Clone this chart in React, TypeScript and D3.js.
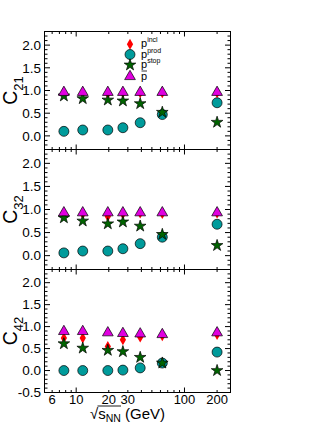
import React from 'react'
import * as d3 from 'd3'

// collision energies (GeV)
const energies = [7.7, 11.5, 19.6, 27, 39, 62.4, 200]

// C21
const c21Incl = [0.95, 0.95, 0.93, 0.95, 0.95, 0.95, 0.95]
const c21Prod = [0.10, 0.13, 0.13, 0.18, 0.29, 0.47, 0.73]
const c21Stop = [0.88, 0.82, 0.79, 0.77, 0.71, 0.52, 0.30]
const c21Pbar = [0.96, 0.96, 0.96, 0.96, 0.96, 0.96, 0.96]

// C32
const c32Incl = [0.91, 0.90, 0.85, 0.90, 0.92, 0.91, 0.92]
const c32Prod = [0.06, 0.10, 0.10, 0.15, 0.26, 0.40, 0.68]
const c32Stop = [0.82, 0.75, 0.69, 0.73, 0.64, 0.46, 0.22]
const c32Pbar = [0.93, 0.93, 0.93, 0.93, 0.93, 0.93, 0.93]

// C42
const c42Incl = [0.74, 0.74, 0.55, 0.70, 0.76, 0.79, 0.82]
const c42Prod = [0.0, 0.0, 0.0, 0.01, 0.06, 0.17, 0.42]
const c42Stop = [0.61, 0.51, 0.46, 0.43, 0.30, 0.17, 0.0]
const c42Pbar = [0.89, 0.89, 0.86, 0.845, 0.835, 0.82, 0.86]

const xTickLabels = [6, 10, 20, 30, 100, 200]
const legendNames = ['incl', 'prod', 'stop', 'pbar']

const FONT = '"Liberation Sans", Arial, Helvetica, sans-serif'
const left = 44.5
const right = 230.5

const x = d3.scaleLog().domain([5.1, 266]).range([left, right])

const panels = [
  { sub: '21', top: 31.5, bottom: 149.5, yMin: -0.3, yMax: 2.3, series: [c21Incl, c21Prod, c21Stop, c21Pbar], yLabels: [0, 0.5, 1, 1.5, 2] },
  { sub: '32', top: 149.5, bottom: 269.5, yMin: -0.3, yMax: 2.3, series: [c32Incl, c32Prod, c32Stop, c32Pbar], yLabels: [0, 0.5, 1, 1.5, 2] },
  { sub: '42', top: 269.5, bottom: 392.5, yMin: -0.5, yMax: 2.3, series: [c42Incl, c42Prod, c42Stop, c42Pbar], yLabels: [-0.5, 0, 0.5, 1, 1.5, 2] },
]

const styles: Record<string, { sym: d3.SymbolType; size: number; fill: string; stroke: string }> = {
  incl: { sym: d3.symbolDiamond, size: 34, fill: '#ff0000', stroke: 'none' },
  prod: { sym: d3.symbolCircle, size: 78, fill: '#009b9b', stroke: '#000' },
  stop: { sym: d3.symbolStar, size: 42, fill: '#006400', stroke: '#000' },
  pbar: { sym: d3.symbolTriangle, size: 50, fill: '#e000e0', stroke: '#000' },
}

const Marker = ({ kind, cx, cy }: { kind: string; cx: number; cy: number }) => {
  const s = styles[kind]
  const d = d3.symbol(s.sym, s.size)() as string
  return <path d={d} transform={`translate(${cx},${cy})`} fill={s.fill} stroke={s.stroke} strokeWidth={0.7} />
}

const Panel = ({ p }: { p: typeof panels[number] }) => {
  const y = d3.scaleLinear().domain([p.yMin, p.yMax]).range([p.bottom, p.top])
  const minor = d3.range(Math.round(p.yMin * 10), Math.round(p.yMax * 10) + 1).map(v => v / 10)
  const xt = x.ticks()
  const mid = (p.top + p.bottom) / 2
  return (
    <g>
      <rect x={left} y={p.top} width={right - left} height={p.bottom - p.top} fill="none" stroke="#000" strokeWidth={1} />
      {minor.map(v => {
        const major = Math.abs(v * 2 - Math.round(v * 2)) < 1e-6
        const len = major ? 5.5 : 3
        return (
          <g key={v}>
            <line x1={left} x2={left + len} y1={y(v)} y2={y(v)} stroke="#000" />
            <line x1={right} x2={right - len} y1={y(v)} y2={y(v)} stroke="#000" />
          </g>
        )
      })}
      {xt.map(v => {
        const major = Math.abs(Math.log10(v) - Math.round(Math.log10(v))) < 1e-6
        const len = major ? 5 : 2.5
        return (
          <g key={v}>
            <line x1={x(v)} x2={x(v)} y1={p.bottom} y2={p.bottom - len} stroke="#000" />
            <line x1={x(v)} x2={x(v)} y1={p.top} y2={p.top + len} stroke="#000" />
          </g>
        )
      })}
      {p.yLabels.map(v => (
        <text key={v} x={41} y={y(v) + 4.8} textAnchor="end" fontSize={13.5} fontFamily={FONT}>
          {v.toFixed(1)}
        </text>
      ))}
      <text transform={`translate(17,${mid}) rotate(-90)`} textAnchor="middle" fontFamily={FONT} fontSize={19.5}>
        C<tspan fontSize={13} dy={6}>{p.sub}</tspan>
      </text>
      {p.series.map((vals, si) =>
        vals.map((v, i) => <Marker key={`${si}-${i}`} kind={legendNames[si]} cx={x(energies[i])} cy={y(v)} />)
      )}
    </g>
  )
}

const legendRows = [44.3, 54.5, 65, 76.5]

export default function App() {
  return (
    <svg width={332} height={430} style={{ position: 'absolute', left: 0, top: 0, background: '#fff' }}>
      <rect width={332} height={430} fill="#fff" />
      {panels.map(p => <Panel key={p.sub} p={p} />)}
      {xTickLabels.map(v => (
        <text key={v} x={x(v)} y={403.5} textAnchor="middle" fontSize={13} fontFamily={FONT}>{v}</text>
      ))}
      <text x={90} y={418.5} fontFamily={FONT} fontSize={15}>
        √s<tspan fontSize={10.5} dy={3}>NN</tspan><tspan dy={-3}> (GeV)</tspan>
      </text>
      <line x1={97.5} x2={121} y1={406} y2={406} stroke="#000" strokeWidth={0.9} />
      {legendNames.map((k, i) => (
        <g key={k}>
          <Marker kind={k} cx={130} cy={legendRows[i]} />
          <text x={141} y={legendRows[i] + 3} fontFamily={FONT} fontSize={11}>
            p{k !== 'pbar' && <tspan fontSize={7} dy={-5}>{k}</tspan>}
          </text>
          {k === 'pbar' && <line x1={141.5} x2={147} y1={legendRows[i] - 5.5} y2={legendRows[i] - 5.5} stroke="#000" strokeWidth={0.8} />}
        </g>
      ))}
    </svg>
  )
}
